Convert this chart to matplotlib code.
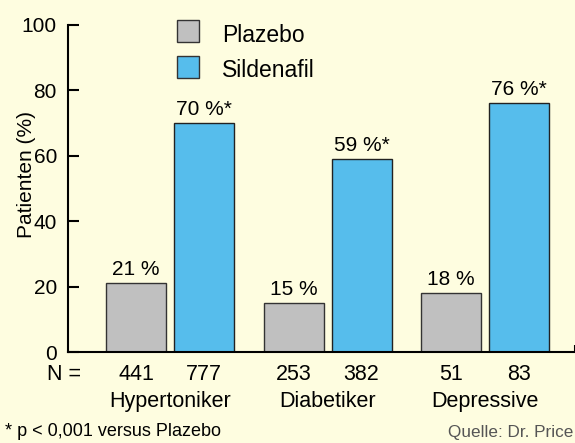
import numpy as np
import matplotlib.pyplot as plt
from matplotlib import transforms

plt.rcParams['font.family'] = ['Liberation Sans', 'DejaVu Sans']

gruppen = ['Hypertoniker', 'Diabetiker', 'Depressive']
plazebo = [21, 15, 18]
sildenafil = [70, 59, 76]
n_plazebo = [441, 253, 51]
n_sildenafil = [777, 382, 83]
lab_plazebo = ['21 %', '15 %', '18 %']
lab_sildenafil = ['70 %*', '59 %*', '76 %*']

bg = '#fefde0'
grau = '#c0c0c0'
blau = '#56bdec'
fs = 15.5

fig = plt.figure(figsize=(5.75, 4.43), dpi=100, facecolor=bg)
ax = fig.add_axes([68/575, 91/443, 1 - 68/575, 327/443])
ax.set_facecolor(bg)

x = np.arange(len(gruppen))
w = 0.381
off = 0.216
b1 = ax.bar(x - off, plazebo, w, color=grau, edgecolor='#333333', linewidth=1)
b2 = ax.bar(x + off, sildenafil, w, color=blau, edgecolor='#222222', linewidth=1)
ax.bar_label(b1, labels=lab_plazebo, padding=3, fontsize=15)
ax.bar_label(b2, labels=lab_sildenafil, padding=3, fontsize=15)

ax.set_xlim(-0.648, 2.571)
ax.set_ylim(0, 100)
ax.set_yticks([0, 20, 40, 60, 80, 100])
ax.tick_params(axis='y', direction='in', length=8, width=1.5, pad=8, labelsize=15)
ax.set_xticks([2.571])
ax.set_xticklabels([])
ax.tick_params(axis='x', direction='in', length=5, width=1.5)
for s in ['top', 'right']:
    ax.spines[s].set_visible(False)
ax.spines['left'].set_linewidth(1.5)
ax.spines['bottom'].set_linewidth(1.5)

fig.text(26/575, 1 - 175/443, 'Patienten (%)', rotation=90, ha='center', va='center', fontsize=15)

tr = transforms.blended_transform_factory(ax.transData, fig.transFigure)
fig.text(47/575, 1 - 380/443, 'N =', ha='left', va='baseline', fontsize=fs)
for i in range(len(gruppen)):
    ax.text(x[i] - off, 1 - 380/443, str(n_plazebo[i]), transform=tr, ha='center', va='baseline', fontsize=fs)
    ax.text(x[i] + off, 1 - 380/443, str(n_sildenafil[i]), transform=tr, ha='center', va='baseline', fontsize=fs)
    ax.text(x[i], 1 - 407/443, gruppen[i], transform=tr, ha='center', va='baseline', fontsize=fs)

fig.text(5/575, 1 - 436/443, '* p < 0,001 versus Plazebo', ha='left', va='baseline', fontsize=13)
fig.text(573/575, 1 - 437/443, 'Quelle: Dr. Price', ha='right', va='baseline', fontsize=12.3, color='#555555')

# Legende
fig.patches.append(plt.Rectangle((177/575, 1 - 42/443), 22/575, 22/443, transform=fig.transFigure,
                                 facecolor=grau, edgecolor='#333333', linewidth=1))
fig.patches.append(plt.Rectangle((177/575, 1 - 78/443), 22/575, 22/443, transform=fig.transFigure,
                                 facecolor=blau, edgecolor='#333333', linewidth=1))
fig.text(222/575, 1 - 42/443, 'Plazebo', ha='left', va='baseline', fontsize=16.5)
fig.text(222/575, 1 - 77/443, 'Sildenafil', ha='left', va='baseline', fontsize=16.5)

fig.savefig('out.png', dpi=100, facecolor=bg)
